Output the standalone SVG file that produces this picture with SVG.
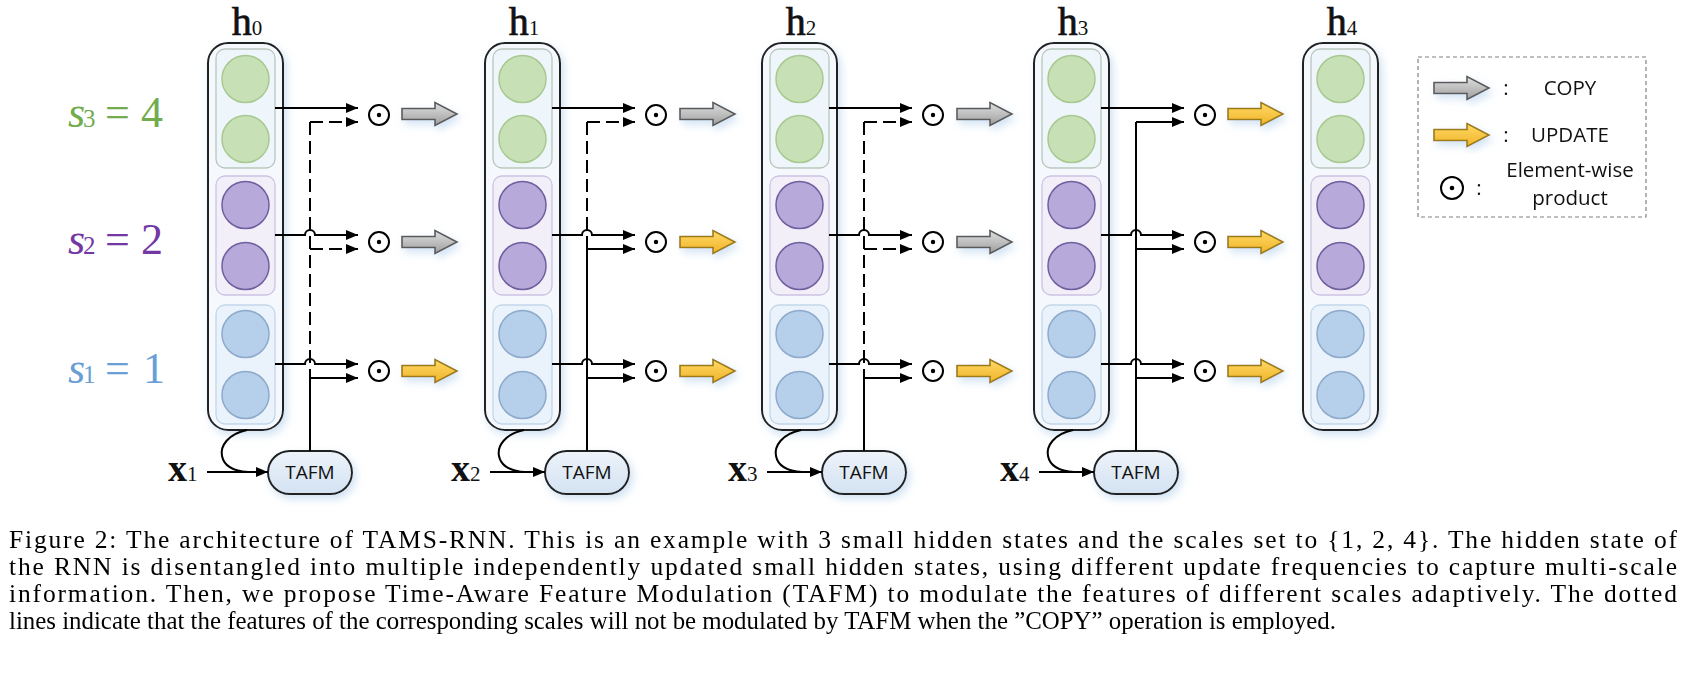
<svg xmlns="http://www.w3.org/2000/svg" xmlns:xlink="http://www.w3.org/1999/xlink" width="1705" height="679" viewBox="0 0 1705 679">
<style>
.box{fill:#f5f9fd;stroke:#222;stroke-width:2;}
.pg{fill:#eef5fb;stroke:#b9c7bd;stroke-width:1.3;}
.pp{fill:#f2eff9;stroke:#cdc2e3;stroke-width:1.3;}
.pb{fill:#eaf2fb;stroke:#c2d6ea;stroke-width:1.3;}
.cg{fill:#c7e0b5;stroke:#a8c991;stroke-width:1.5;}
.cp{fill:#b7a9da;stroke:#6f5e9e;stroke-width:1.5;}
.cb{fill:#b6cfeb;stroke:#8daacb;stroke-width:1.5;}
.hl{font-family:"Liberation Serif","Times New Roman",serif;font-size:40px;fill:#111;stroke:#111;stroke-width:0.7;}
.xl{font-family:"Liberation Serif","Times New Roman",serif;font-weight:bold;font-size:38px;fill:#111;}
.sub{font-weight:normal;font-size:21px;stroke-width:0;}
.ln{fill:none;stroke:#000;stroke-width:2;}
.dl{fill:none;stroke:#000;stroke-width:2;stroke-dasharray:13 6;}
.od{fill:#fff;stroke:#000;stroke-width:2;}
.dot{fill:#000;}
.cpy{fill:url(#gg);stroke:#5a5a5a;stroke-width:1.6;}
.upd{fill:url(#gy);stroke:#9c7a14;stroke-width:1.6;}
.tafm{fill:url(#gt);stroke:#222;stroke-width:2;}
.sans{font-family:"Open Sans","Liberation Sans",sans-serif;font-size:19px;fill:#111;}
.leg{font-family:"Open Sans","Liberation Sans",sans-serif;font-size:20.5px;fill:#111;}
.lab{font-family:"Liberation Serif","Times New Roman",serif;font-size:44px;}
.cap{font-family:"Liberation Serif","Times New Roman",serif;font-size:25.5px;fill:#000;}
</style>
<defs>
<marker id="ah" viewBox="0 0 12 10" refX="12" refY="5" markerWidth="12" markerHeight="10" markerUnits="userSpaceOnUse" orient="auto"><path d="M0,0 L12,5 L0,10 z" fill="#000"/></marker>
<linearGradient id="gg" x1="0" y1="0" x2="0" y2="1"><stop offset="0" stop-color="#e0e0e0"/><stop offset="1" stop-color="#9e9e9e"/></linearGradient>
<linearGradient id="gy" x1="0" y1="0" x2="0" y2="1"><stop offset="0" stop-color="#ffd966"/><stop offset="1" stop-color="#f0b429"/></linearGradient>
<linearGradient id="gt" x1="0" y1="0" x2="0" y2="1"><stop offset="0" stop-color="#edf3fa"/><stop offset="1" stop-color="#d3e2f2"/></linearGradient>
<filter id="glow" x="-30%" y="-30%" width="160%" height="160%"><feDropShadow dx="3" dy="4" stdDeviation="4" flood-color="#bcd5ee" flood-opacity="0.7"/></filter>
<path id="blk" d="M0,-5.5 H33 V-11.5 L55,0 L33,11.5 V5.5 H0 Z"/>
<g id="col">
<rect class="box" x="0" y="43" width="75" height="387" rx="20"/>
<rect class="pg" x="8" y="49" width="59" height="119" rx="9"/>
<rect class="pp" x="8" y="176" width="59" height="119" rx="9"/>
<rect class="pb" x="8" y="305" width="59" height="119" rx="9"/>
<circle class="cg" cx="37.5" cy="79" r="23.5"/>
<circle class="cg" cx="37.5" cy="139" r="23.5"/>
<circle class="cp" cx="37.5" cy="205" r="23.5"/>
<circle class="cp" cx="37.5" cy="266" r="23.5"/>
<circle class="cb" cx="37.5" cy="334" r="23.5"/>
<circle class="cb" cx="37.5" cy="395" r="23.5"/>
</g>
<g id="odot"><circle class="od" cx="0" cy="0" r="10"/><circle class="dot" cx="0" cy="0" r="2.2"/></g>
<g id="tafmshape"><rect class="tafm" x="0" y="0" width="84" height="43" rx="21.5"/></g>
</defs>

<g id="scale-labels">
<text class="lab" fill="#72ac4c" y="127"><tspan x="68" font-style="italic">s</tspan><tspan x="83" font-size="25">3</tspan><tspan x="105">=</tspan><tspan x="141">4</tspan></text>
<text class="lab" fill="#7438a4" y="254"><tspan x="68" font-style="italic">s</tspan><tspan x="83" font-size="25">2</tspan><tspan x="105">=</tspan><tspan x="141">2</tspan></text>
<text class="lab" fill="#6a9fd6" y="383"><tspan x="68" font-style="italic">s</tspan><tspan x="83" font-size="25">1</tspan><tspan x="105">=</tspan><tspan x="143">1</tspan></text>
</g>

<g id="h0"><use xlink:href="#col" href="#col" x="208" filter="url(#glow)"/><text class="hl" x="247" y="35" text-anchor="middle">h<tspan class="sub">0</tspan></text></g>
<g id="h1"><use xlink:href="#col" href="#col" x="485" filter="url(#glow)"/><text class="hl" x="524" y="35" text-anchor="middle">h<tspan class="sub">1</tspan></text></g>
<g id="h2"><use xlink:href="#col" href="#col" x="762" filter="url(#glow)"/><text class="hl" x="801" y="35" text-anchor="middle">h<tspan class="sub">2</tspan></text></g>
<g id="h3"><use xlink:href="#col" href="#col" x="1034" filter="url(#glow)"/><text class="hl" x="1073" y="35" text-anchor="middle">h<tspan class="sub">3</tspan></text></g>
<g id="h4"><use xlink:href="#col" href="#col" x="1303" filter="url(#glow)"/><text class="hl" x="1342" y="35" text-anchor="middle">h<tspan class="sub">4</tspan></text></g>

<g id="tafm1"><use xlink:href="#tafmshape" href="#tafmshape" x="268" y="451" filter="url(#glow)"/><text class="sans" x="310" y="479" text-anchor="middle">TAFM</text></g>
<g id="tafm2"><use xlink:href="#tafmshape" href="#tafmshape" x="545" y="451" filter="url(#glow)"/><text class="sans" x="587" y="479" text-anchor="middle">TAFM</text></g>
<g id="tafm3"><use xlink:href="#tafmshape" href="#tafmshape" x="822" y="451" filter="url(#glow)"/><text class="sans" x="864" y="479" text-anchor="middle">TAFM</text></g>
<g id="tafm4"><use xlink:href="#tafmshape" href="#tafmshape" x="1094" y="451" filter="url(#glow)"/><text class="sans" x="1136" y="479" text-anchor="middle">TAFM</text></g>

<g id="x1"><text class="xl" x="168" y="481">x<tspan class="sub">1</tspan></text></g>
<g id="x2"><text class="xl" x="451" y="481">x<tspan class="sub">2</tspan></text></g>
<g id="x3"><text class="xl" x="728" y="481">x<tspan class="sub">3</tspan></text></g>
<g id="x4"><text class="xl" x="1000" y="481">x<tspan class="sub">4</tspan></text></g>

<g id="ops">
<use xlink:href="#odot" href="#odot" x="379" y="115"/><use xlink:href="#odot" href="#odot" x="379" y="242"/><use xlink:href="#odot" href="#odot" x="379" y="371"/>
<use xlink:href="#odot" href="#odot" x="656" y="115"/><use xlink:href="#odot" href="#odot" x="656" y="242"/><use xlink:href="#odot" href="#odot" x="656" y="371"/>
<use xlink:href="#odot" href="#odot" x="933" y="115"/><use xlink:href="#odot" href="#odot" x="933" y="242"/><use xlink:href="#odot" href="#odot" x="933" y="371"/>
<use xlink:href="#odot" href="#odot" x="1205" y="115"/><use xlink:href="#odot" href="#odot" x="1205" y="242"/><use xlink:href="#odot" href="#odot" x="1205" y="371"/>
</g>

<g id="block-arrows" filter="url(#glow)">
<use xlink:href="#blk" href="#blk" class="cpy" x="402" y="114"/><use xlink:href="#blk" href="#blk" class="cpy" x="402" y="242"/><use xlink:href="#blk" href="#blk" class="upd" x="402" y="371"/>
<use xlink:href="#blk" href="#blk" class="cpy" x="680" y="114"/><use xlink:href="#blk" href="#blk" class="upd" x="680" y="242"/><use xlink:href="#blk" href="#blk" class="upd" x="680" y="371"/>
<use xlink:href="#blk" href="#blk" class="cpy" x="957" y="114"/><use xlink:href="#blk" href="#blk" class="cpy" x="957" y="242"/><use xlink:href="#blk" href="#blk" class="upd" x="957" y="371"/>
<use xlink:href="#blk" href="#blk" class="upd" x="1228" y="114"/><use xlink:href="#blk" href="#blk" class="upd" x="1228" y="242"/><use xlink:href="#blk" href="#blk" class="upd" x="1228" y="371"/>
</g>

<g id="connectors">
<path class="ln" d="M275,108 H358" marker-end="url(#ah)"/>
<path class="ln" d="M275,235 H305 A5,5 0 0 1 315,235 H358" marker-end="url(#ah)"/>
<path class="ln" d="M275,364 H305 A5,5 0 0 1 315,364 H358" marker-end="url(#ah)"/>
<path class="dl" d="M310,122 H358" marker-end="url(#ah)"/>
<path class="dl" d="M310,249 H358" marker-end="url(#ah)"/>
<path class="ln" d="M310,378 H358" marker-end="url(#ah)"/>
<path class="dl" d="M310,122 V378"/>
<path class="ln" d="M310,378 V451"/>
<path class="ln" d="M207,472 H268" marker-end="url(#ah)"/>
<path class="ln" d="M247,430 C228,434 220,446 222,456 C224,466 232,471 248,472"/>
<path class="ln" d="M552,108 H635" marker-end="url(#ah)"/>
<path class="ln" d="M552,235 H582 A5,5 0 0 1 592,235 H635" marker-end="url(#ah)"/>
<path class="ln" d="M552,364 H582 A5,5 0 0 1 592,364 H635" marker-end="url(#ah)"/>
<path class="dl" d="M587,122 H635" marker-end="url(#ah)"/>
<path class="ln" d="M587,249 H635" marker-end="url(#ah)"/>
<path class="ln" d="M587,378 H635" marker-end="url(#ah)"/>
<path class="dl" d="M587,122 V249"/>
<path class="ln" d="M587,249 V451"/>
<path class="ln" d="M490,472 H545" marker-end="url(#ah)"/>
<path class="ln" d="M524,430 C505,434 497,446 499,456 C501,466 509,471 525,472"/>
<path class="ln" d="M829,108 H912" marker-end="url(#ah)"/>
<path class="ln" d="M829,235 H859 A5,5 0 0 1 869,235 H912" marker-end="url(#ah)"/>
<path class="ln" d="M829,364 H859 A5,5 0 0 1 869,364 H912" marker-end="url(#ah)"/>
<path class="dl" d="M864,122 H912" marker-end="url(#ah)"/>
<path class="dl" d="M864,249 H912" marker-end="url(#ah)"/>
<path class="ln" d="M864,378 H912" marker-end="url(#ah)"/>
<path class="dl" d="M864,122 V378"/>
<path class="ln" d="M864,378 V451"/>
<path class="ln" d="M767,472 H822" marker-end="url(#ah)"/>
<path class="ln" d="M801,430 C782,434 774,446 776,456 C778,466 786,471 802,472"/>
<path class="ln" d="M1101,108 H1184" marker-end="url(#ah)"/>
<path class="ln" d="M1101,235 H1131 A5,5 0 0 1 1141,235 H1184" marker-end="url(#ah)"/>
<path class="ln" d="M1101,364 H1131 A5,5 0 0 1 1141,364 H1184" marker-end="url(#ah)"/>
<path class="ln" d="M1136,122 H1184" marker-end="url(#ah)"/>
<path class="ln" d="M1136,249 H1184" marker-end="url(#ah)"/>
<path class="ln" d="M1136,378 H1184" marker-end="url(#ah)"/>
<path class="ln" d="M1136,122 V451"/>
<path class="ln" d="M1039,472 H1094" marker-end="url(#ah)"/>
<path class="ln" d="M1073,430 C1054,434 1046,446 1048,456 C1050,466 1058,471 1074,472"/>
</g>

<g id="legend">
<rect x="1418" y="57" width="228" height="160" fill="#fff" stroke="#808080" stroke-width="1.2" stroke-dasharray="4 3"/>
<use xlink:href="#blk" href="#blk" class="cpy" x="1434" y="88" filter="url(#glow)"/>
<use xlink:href="#blk" href="#blk" class="upd" x="1434" y="135" filter="url(#glow)"/>
<text class="leg" x="1506" y="95" text-anchor="middle">:</text>
<text class="leg" x="1570" y="95" text-anchor="middle">COPY</text>
<text class="leg" x="1506" y="142" text-anchor="middle">:</text>
<text class="leg" x="1570" y="142" text-anchor="middle">UPDATE</text>
<circle class="od" cx="1452" cy="188" r="11"/><circle class="dot" cx="1452" cy="188" r="2.3"/>
<text class="leg" x="1479" y="195" text-anchor="middle">:</text>
<text class="leg" x="1570" y="177" text-anchor="middle">Element-wise</text>
<text class="leg" x="1570" y="205" text-anchor="middle">product</text>
</g>

<g id="caption">
<text class="cap" x="9" y="548" textLength="1668" lengthAdjust="spacing">Figure 2: The architecture of TAMS-RNN. This is an example with 3 small hidden states and the scales set to {1, 2, 4}. The hidden state of</text>
<text class="cap" x="9" y="575" textLength="1668" lengthAdjust="spacing">the RNN is disentangled into multiple independently updated small hidden states, using different update frequencies to capture multi-scale</text>
<text class="cap" x="9" y="602" textLength="1668" lengthAdjust="spacing">information. Then, we propose Time-Aware Feature Modulation (TAFM) to modulate the features of different scales adaptively. The dotted</text>
<text class="cap" x="9" y="629" textLength="1327" lengthAdjust="spacingAndGlyphs">lines indicate that the features of the corresponding scales will not be modulated by TAFM when the ”COPY” operation is employed.</text>
</g>
</svg>
